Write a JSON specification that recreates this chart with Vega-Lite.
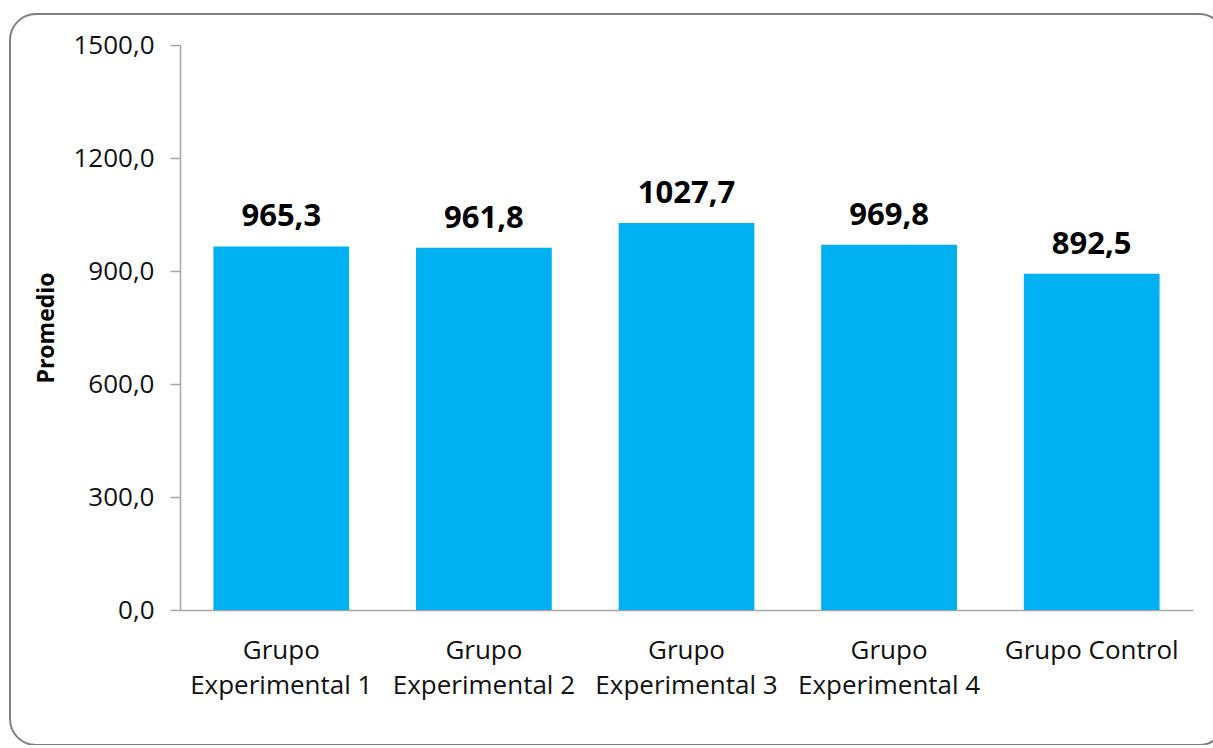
{
  "$schema": "https://vega.github.io/schema/vega-lite/v6.json",
  "width": 1215,
  "height": 731,
  "autosize": {"type": "none"},
  "padding": {"left": 10, "top": 14, "right": 0, "bottom": 0},
  "background": "#ffffff",
  "config": {
    "locale": {"number": {"decimal": ",", "thousands": ".", "grouping": [3], "currency": ["", " €"]}},
    "view": {"stroke": "#7f7f7f", "strokeWidth": 2, "cornerRadius": 26},
    "font": "Open Sans"
  },
  "data": {
    "values": [
      {"grupo": "Grupo Experimental 1", "promedio": 965.3},
      {"grupo": "Grupo Experimental 2", "promedio": 961.8},
      {"grupo": "Grupo Experimental 3", "promedio": 1027.7},
      {"grupo": "Grupo Experimental 4", "promedio": 969.8},
      {"grupo": "Grupo Control", "promedio": 892.5}
    ]
  },
  "encoding": {
    "x": {
      "field": "grupo",
      "type": "nominal",
      "sort": null,
      "scale": {"range": [170, 1183], "paddingInner": 0.33, "paddingOuter": 0.165},
      "axis": {
        "title": null,
        "orient": "bottom",
        "offset": -135,
        "labelAngle": 0,
        "ticks": false,
        "domainColor": "#a6a6a6",
        "domainWidth": 1.5,
        "labelFont": "Open Sans",
        "labelFontSize": 26,
        "labelColor": "#111111",
        "labelPadding": 27,
        "labelLineHeight": 35,
        "labelBaseline": "top",
        "labelLimit": 400,
        "labelOverlap": false,
        "labelExpr": "indexof(datum.label, 'Experimental') >= 0 ? ['Grupo', substring(datum.label, 6)] : datum.label"
      }
    },
    "y": {
      "field": "promedio",
      "type": "quantitative",
      "scale": {"domain": [0, 1500], "range": [596, 31], "nice": false, "zero": true},
      "axis": {
        "title": "Promedio",
        "orient": "left",
        "offset": -170,
        "values": [0, 300, 600, 900, 1200, 1500],
        "format": ".1f",
        "grid": false,
        "domainColor": "#a6a6a6",
        "domainWidth": 1.5,
        "tickColor": "#a6a6a6",
        "tickWidth": 1.5,
        "tickSize": 10,
        "labelFont": "Open Sans",
        "labelFontSize": 26,
        "labelColor": "#111111",
        "labelPadding": 16,
        "titleFont": "Open Sans",
        "titleFontSize": 23,
        "titleFontWeight": "bold",
        "titleColor": "#000000",
        "titlePadding": 14
      }
    }
  },
  "layer": [
    {
      "mark": {"type": "bar", "color": "#00b0f0"}
    },
    {
      "mark": {
        "type": "text",
        "baseline": "bottom",
        "dy": -13,
        "font": "Open Sans",
        "fontSize": 31,
        "fontWeight": "bold",
        "color": "#000000"
      },
      "encoding": {
        "text": {"field": "promedio", "type": "quantitative", "format": ".1f"}
      }
    }
  ]
}
